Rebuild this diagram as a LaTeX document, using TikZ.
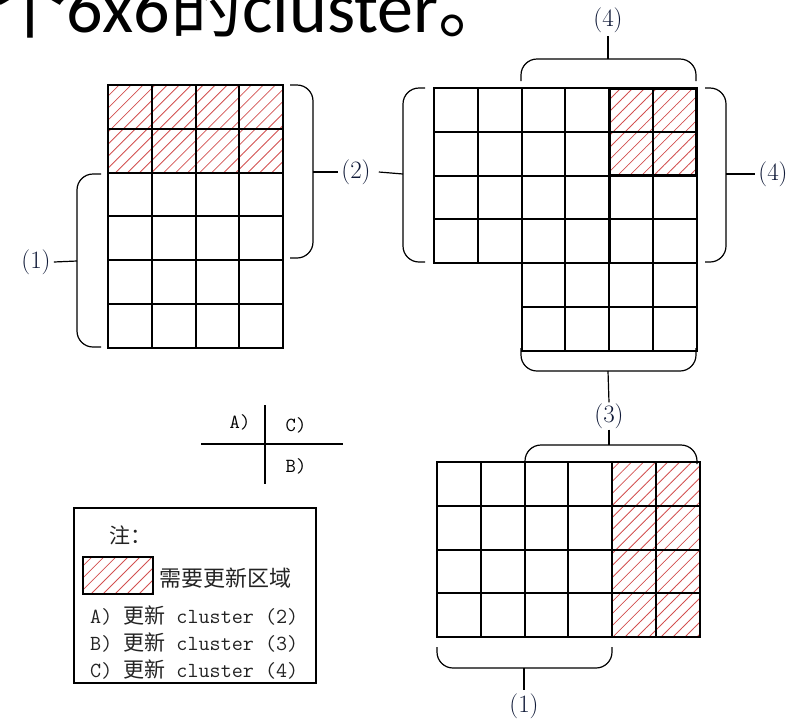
\documentclass[tikz,border=0pt]{standalone}
\usepackage{fontspec}
\usetikzlibrary{patterns.meta}
\newfontfamily\cjkfont{Noto Sans CJK SC}
\newfontfamily\titlefont{Carlito}
\definecolor{hatchred}{RGB}{210,80,80}
\definecolor{labelblue}{RGB}{15,25,55}
\definecolor{notegray}{RGB}{35,35,35}
\def\cs{43.8}

\begin{document}
\begin{tikzpicture}[x=1pt, y=-1pt,
    gridline/.style={line width=1.9pt, line cap=rect},
    boldline/.style={line width=3pt},
    hatched/.style={pattern={Lines[angle=45, distance=8.5pt, line width=0.8pt]}, pattern color=hatchred},
    bracket/.style={line width=1.2pt, rounded corners=16pt},
    tick/.style={line width=1.2pt},
    cluster label/.style={inner sep=3pt, text=labelblue, font=\fontsize{25}{28}\selectfont},
    cross label/.style={inner sep=0pt, font=\ttfamily\fontsize{20}{22}\selectfont},
    note text/.style={anchor=west, inner sep=0pt, text=notegray, font=\ttfamily\fontsize{21.5}{24}\selectfont}]
    \useasboundingbox (0,0) rectangle (796,721);

    % Title (cut by the top edge)
    \node[anchor=base west, inner sep=0pt, font=\fontsize{72}{80}\selectfont] (title) at (-6,32)
      {{\cjkfont 个}{\titlefont 6x6}{\cjkfont 的}{\titlefont cluster}{\cjkfont 。}};

    % Left cluster: 4 x 6
    \fill[hatched] (108,85) rectangle ({108+4*\cs},{85+2*\cs});
    \foreach \i in {0,...,4}
      \draw[gridline] ({108+\i*\cs},85) -- ({108+\i*\cs},{85+6*\cs});
    \foreach \j in {0,...,6}
      \draw[gridline] (108,{85+\j*\cs}) -- ({108+4*\cs},{85+\j*\cs});

    % Upper right cluster
    \fill[hatched] ({434+4*\cs},88) rectangle ({434+6*\cs},{88+2*\cs});
    \foreach \i in {0,1}
      \draw[gridline] ({434+\i*\cs},88) -- ({434+\i*\cs},{88+4*\cs});
    \foreach \i in {2,...,6}
      \draw[gridline] ({434+\i*\cs},88) -- ({434+\i*\cs},{88+6*\cs});
    \foreach \j in {0,...,4}
      \draw[gridline] (434,{88+\j*\cs}) -- ({434+6*\cs},{88+\j*\cs});
    \foreach \j in {5,6}
      \draw[gridline] ({434+2*\cs},{88+\j*\cs}) -- ({434+6*\cs},{88+\j*\cs});
    \draw[boldline] ({434+4*\cs},88) -- ({434+4*\cs},{88+4*\cs});
    \draw[boldline] ({434+4*\cs},88) rectangle ({434+6*\cs},{88+2*\cs});

    % Lower right cluster: 6 x 4
    \fill[hatched] ({437+4*\cs},462) rectangle ({437+6*\cs},{462+4*\cs});
    \foreach \i in {0,...,6}
      \draw[gridline] ({437+\i*\cs},462) -- ({437+\i*\cs},{462+4*\cs});
    \foreach \j in {0,...,4}
      \draw[gridline] (437,{462+\j*\cs}) -- ({437+6*\cs},{462+\j*\cs});

    % Brackets
    \draw[bracket] (101,174) -- (77,174) -- (77,347) -- (101,347);
    \coordinate (brL1) at (77,261);
    \draw[bracket] (290,85) -- (313,85) -- (313,258) -- (290,258);
    \coordinate (brL2) at (313,172);
    \draw[bracket] (425,88) -- (403,88) -- (403,262) -- (425,262);
    \coordinate (brRl) at (403,174);
    \draw[bracket] (521,81) -- (521,59) -- (696,59) -- (696,81);
    \coordinate (brRt) at (608,59);
    \draw[bracket] (705,88) -- (726,88) -- (726,262) -- (705,262);
    \coordinate (brRr) at (726,174);
    \draw[bracket] (521,348) -- (521,371) -- (696,371) -- (696,348);
    \coordinate (brRb) at (608,371);
    \draw[bracket] (525,462) -- (525,445) -- (697,445) -- (697,464);
    \coordinate (brBt) at (609,445);
    \draw[bracket] (437,647) -- (437,668) -- (612,668) -- (612,647);
    \coordinate (brBb) at (524,668);

    % Labels and ticks
    \node[cluster label] (lab1a) at (36,262) {(1)};
    \node[cluster label] (lab2) at (356,172) {(2)};
    \node[cluster label] (lab4t) at (608,20) {(4)};
    \node[cluster label] (lab4r) at (773,174) {(4)};
    \node[cluster label, inner sep=1pt] (lab3) at (609,416) {(3)};
    \node[cluster label] (lab1b) at (524,706) {(1)};
    \draw[tick] (brL1) -- (lab1a.east);
    \draw[tick] (brL2) -- (lab2.west);
    \draw[tick] (brRl) -- ([xshift=5pt]lab2.east);
    \draw[tick] (brRt) -- (lab4t.south);
    \draw[tick] (brRr) -- (lab4r.west);
    \draw[tick] (brRb) -- (lab3.north);
    \draw[tick] (lab3.south) -- (brBt);
    \draw[tick] (brBb) -- (lab1b.north);

    % Cross
    \draw[line width=1.6pt] (265,405) -- (265,484);
    \draw[line width=1.6pt] (201,444) -- (343,444);
    \node[cross label] (crA) at (240,422) {A)};
    \node[cross label] (crC) at (296,425) {C)};
    \node[cross label] (crB) at (296,466) {B)};

    % Legend
    \draw[line width=1.6pt] (74,508) rectangle (316,683);
    \node[note text, font=\cjkfont\fontsize{21}{24}\selectfont] (notehead) at (109,535) {注：};
    \fill[hatched] (83,557) rectangle (153,594);
    \draw[line width=1.6pt] (83,557) rectangle (153,594);
    \node[note text, font=\cjkfont\fontsize{22}{24}\selectfont] (notearea) at (159,578) {需要更新区域};
    \node[note text] (noteA) at (90,616) {A)\ {\cjkfont\fontsize{21}{22}\selectfont 更新}\ cluster\ (2)};
    \node[note text] (noteB) at (90,643) {B)\ {\cjkfont\fontsize{21}{22}\selectfont 更新}\ cluster\ (3)};
    \node[note text] (noteC) at (90,670) {C)\ {\cjkfont\fontsize{21}{22}\selectfont 更新}\ cluster\ (4)};
\end{tikzpicture}
\end{document}
